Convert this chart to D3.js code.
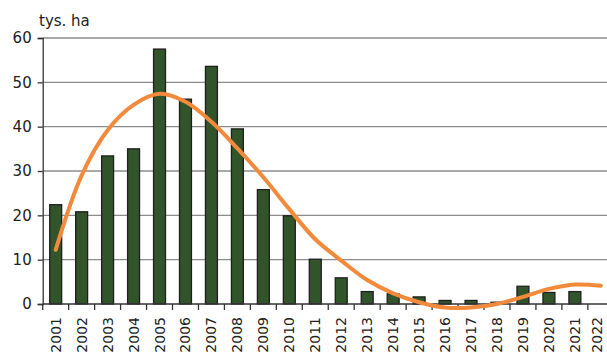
<!DOCTYPE html>
<html><head><meta charset="utf-8">
<script src="https://cdn.jsdelivr.net/npm/d3@7"></script>
<style>body{margin:0;background:#fff;}svg{display:block;}</style>
</head><body>
<svg id="c" width="607" height="353"></svg>
<script>
const years = ["2001","2002","2003","2004","2005","2006","2007","2008","2009","2010","2011","2012","2013","2014","2015","2016","2017","2018","2019","2020","2021","2022"];
const areaValues = [22.4,20.8,33.4,35.0,57.5,46.2,53.6,39.5,25.8,19.9,10.1,5.9,2.8,2.3,1.6,0.8,0.8,0.4,4.0,2.6,2.8,0];
const trendValues = [12.2,29.0,39.2,44.9,47.4,45.6,41.1,35.1,28.6,21.4,14.6,9.8,5.4,2.4,0.4,-0.8,-0.8,0.0,1.6,3.4,4.4,4.1];
const yTicks = [0,10,20,30,40,50,60];
const unitLabel = "tys. ha";

(function(){
const svg = d3.select("#c");
const mLeft = 42.7, mTop = 38, mBottom = 304, band = 25.96;
const x = d3.scaleBand().domain(years).range([mLeft, mLeft + band*years.length]).paddingInner(0.54).paddingOuter(0.27);
const y = d3.scaleLinear().domain([0,60]).range([mBottom, mTop]);
const font = "'DejaVu Sans', sans-serif";

// gridlines
svg.append("g").selectAll("line").data(yTicks.filter(d=>d>0)).join("line")
  .attr("x1", mLeft).attr("x2", 607).attr("y1", d=>y(d)).attr("y2", d=>y(d))
  .attr("stroke", "#8c8c8c").attr("stroke-width", 1.3);

// bars
svg.append("g").selectAll("rect").data(years.map((yr,i)=>({yr, v: areaValues[i]})).filter(d=>d.v>0)).join("rect")
  .attr("x", d=>x(d.yr)).attr("width", x.bandwidth())
  .attr("y", d=>y(d.v)).attr("height", d=>y(0)-y(d.v))
  .attr("fill", "#31542b").attr("stroke", "#1f1f1f").attr("stroke-width", 1.3);

// y axis
const yAxis = d3.axisLeft(y).tickValues(yTicks).tickSize(5).tickPadding(6);
const gy = svg.append("g").attr("transform", `translate(${mLeft},0)`).call(yAxis);
gy.select(".domain").attr("stroke", "#333").attr("stroke-width", 1.3);
gy.selectAll(".tick line").attr("stroke", "#333").attr("stroke-width", 1.3);
gy.selectAll("text").attr("font-family", font).attr("font-size", 15).attr("fill", "#222");

// x axis
const xb = d3.scaleBand().domain(years).range([mLeft, mLeft + band*years.length]);
const gx = svg.append("g").attr("transform", `translate(0,${mBottom})`);
gx.append("line").attr("x1", mLeft).attr("x2", 607).attr("y1", 0).attr("y2", 0).attr("stroke", "#333").attr("stroke-width", 1.3);
gx.selectAll("line.t").data(years).join("line").attr("class","t")
  .attr("x1", d=>xb(d)).attr("x2", d=>xb(d)).attr("y1", 0).attr("y2", 6)
  .attr("stroke", "#333").attr("stroke-width", 1.3);
gx.selectAll("text").data(years).join("text")
  .attr("transform", d=>`translate(${Math.min(xb(d)+xb.bandwidth()/2+5, 602)},13) rotate(-90)`)
  .attr("text-anchor", "end")
  .attr("font-family", font).attr("font-size", 14).attr("fill", "#222")
  .text(d=>d);

// trend line
const line = d3.line().x((d,i)=>x(years[i]) + x.bandwidth()/2).y(d=>y(d)).curve(d3.curveCatmullRom.alpha(0.5));
svg.append("path").datum(trendValues).attr("d", line)
  .attr("fill", "none").attr("stroke", "#f28a3c").attr("stroke-width", 4).attr("stroke-linecap", "round");

// unit label
svg.append("text").attr("x", 39).attr("y", 26).attr("font-family", font).attr("font-size", 15).attr("fill", "#222").text(unitLabel);
})();
</script>
</body></html>
